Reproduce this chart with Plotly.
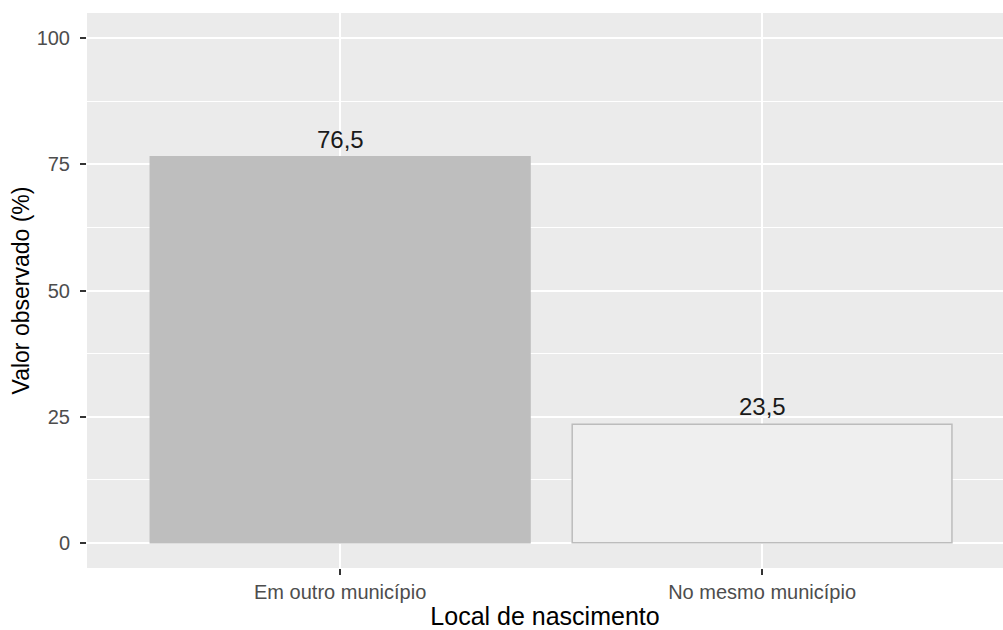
import plotly.graph_objects as go

# --- data ---
categorias = ["Em outro município", "No mesmo município"]
valores = [76.5, 23.5]
rotulos = ["76,5", "23,5"]
y_ticks = [0, 25, 50, 75, 100]

FONT = "Liberation Sans, Arial, sans-serif"

fig = go.Figure(go.Bar(
    x=categorias,
    y=valores,
    width=0.9,
    marker=dict(color=["#bebebe", "#efefef"],
                line=dict(color=["#bebebe", "#bcbcbc"], width=1.5)),
    hoverinfo="skip",
))

# value labels above bars
for cat, val, lab in zip(categorias, valores, rotulos):
    fig.add_annotation(x=cat, y=val, text=lab, showarrow=False,
                       yanchor="bottom", yshift=2,
                       font=dict(family=FONT, size=24, color="#1a1a1a"))

fig.update_layout(
    width=1003, height=630,
    margin=dict(l=87, r=0, t=13, b=62),
    paper_bgcolor="white",
    plot_bgcolor="#ebebeb",
    showlegend=False,
    font=dict(family=FONT),
    xaxis=dict(
        type="category",
        range=[-0.6, 1.571],
        showgrid=True, gridcolor="white", gridwidth=2,
        ticks="outside", ticklen=6, tickwidth=1.5, tickcolor="#333333",
        tickfont=dict(size=20, color="#4d4d4d"),
        ticklabelstandoff=0,
        title=dict(text="Local de nascimento", standoff=9,
                   font=dict(size=25, color="black")),
        showline=False, zeroline=False, fixedrange=True,
    ),
    yaxis=dict(
        range=[-5, 105],
        tickvals=y_ticks,
        showgrid=True, gridcolor="white", gridwidth=2,
        minor=dict(dtick=12.5, tick0=0, showgrid=True,
                   gridcolor="white", gridwidth=1, ticks=""),
        ticks="outside", ticklen=6, tickwidth=1.5, tickcolor="#333333",
        tickfont=dict(size=20, color="#4d4d4d"),
        ticklabelstandoff=6,
        title=dict(text="Valor observado (%)", standoff=0,
                   font=dict(size=23, color="black")),
        showline=False, zeroline=False, fixedrange=True,
    ),
)

# the page body has a default 8px margin; drop it so the figure fills the window
fig.write_html("out.html", config={"displayModeBar": False},
               post_script="document.body.style.margin='0';")
